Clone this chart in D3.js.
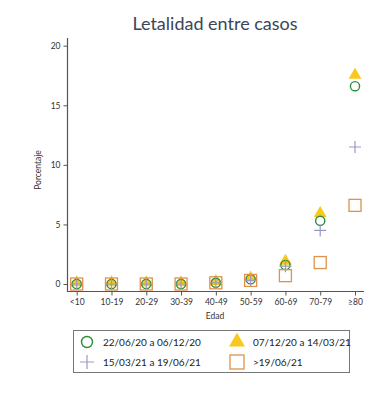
<!DOCTYPE html>
<html><head><meta charset="utf-8">
<script src="https://cdn.jsdelivr.net/npm/d3@7"></script>
<style>body{margin:0;background:#fff}svg{display:block}</style>
</head><body>
<script>
const categories = ["<10","10-19","20-29","30-39","40-49","50-59","60-69","70-79","≥80"];
const seriesNames = ["22/06/20 a 06/12/20","07/12/20 a 14/03/21","15/03/21 a 19/06/21",">19/06/21"];
const s1 = [0.0,0.0,0.0,0.0,0.1,0.4,1.6,5.3,16.6];   // circle
const s2 = [0.0,0.0,0.0,0.0,0.1,0.4,1.8,5.8,17.4];   // triangle
const s3 = [0.0,0.0,0.0,0.0,0.1,0.3,1.5,4.5,11.5];   // plus
const s4 = [0.0,0.0,0.0,0.0,0.1,0.3,0.7,1.8,6.6];    // square
const yTicks = [0,5,10,15,20];

const W=389,H=398;
const svg=d3.select("body").append("svg").attr("width",W).attr("height",H);
const font="Lato, 'Open Sans', sans-serif";
const x=d3.scalePoint().domain(categories).range([76.7,355]);
const y=d3.scaleLinear().domain([0,20]).range([284,45.7]);

svg.append("text").attr("x",215).attr("y",30).attr("text-anchor","middle")
  .attr("font-family",font).attr("font-size",18).attr("fill","#3b4656").text("Letalidad entre casos");

const axisCol="#555";
const ya=svg.append("g").attr("transform","translate(67.5,0)")
  .call(d3.axisLeft(y).tickValues(yTicks).tickSize(4).tickPadding(3));
ya.select(".domain").attr("d","M0,38V292").attr("stroke",axisCol).attr("stroke-width",1.2);
ya.selectAll(".tick line").attr("stroke",axisCol);
ya.selectAll("text").attr("font-family",font).attr("font-size",8.5).attr("fill","#333");
const xa=svg.append("g").attr("transform","translate(0,291.5)")
  .call(d3.axisBottom(x).tickSize(4).tickPadding(3));
xa.select(".domain").attr("d","M67,0H364").attr("stroke",axisCol).attr("stroke-width",1.2);
xa.selectAll(".tick line").attr("stroke",axisCol);
xa.selectAll("text").attr("font-family",font).attr("font-size",8.5).attr("fill","#333");

svg.append("text").attr("transform","translate(41,170) rotate(-90)").attr("text-anchor","middle")
  .attr("font-family",font).attr("font-size",8.5).attr("fill","#333").text("Porcentaje");
svg.append("text").attr("x",215).attr("y",319).attr("text-anchor","middle")
  .attr("font-family",font).attr("font-size",8.5).attr("fill","#333").text("Edad");

const cGreen="#2e8b3a", cGold="#f7c81e", cPurple="#9a9ac8", cOrange="#e0914a";
function tri(g){g.append("path").attr("d",d3.symbol(d3.symbolTriangle,70)()).attr("fill",cGold);}
function circ(g){g.append("circle").attr("r",4.6).attr("fill","none").attr("stroke",cGreen).attr("stroke-width",1.4);}
function plus(g){g.append("path").attr("d","M-6,0H6M0,-6V6").attr("stroke",cPurple).attr("stroke-width",1.2);}
function sq(g){g.append("rect").attr("x",-6).attr("y",-6).attr("width",12).attr("height",12).attr("fill","none").attr("stroke",cOrange).attr("stroke-width",1.3);}

const series=[{v:s2,f:tri,dy:-1.5},{v:s1,f:circ,dy:0},{v:s3,f:plus,dy:0},{v:s4,f:sq,dy:0}];
series.forEach(s=>{
  svg.append("g").selectAll("g").data(categories).join("g")
    .attr("transform",(c,i)=>`translate(${x(c)},${y(s.v[i])+s.dy})`)
    .each(function(){s.f(d3.select(this));});
});

svg.append("rect").attr("x",73.5).attr("y",330.5).attr("width",276).attr("height",42)
  .attr("fill","none").attr("stroke","#777").attr("stroke-width",1);
const leg=[{k:"c",x:87,y:342,n:seriesNames[0]},{k:"t",x:237,y:342,n:seriesNames[1]},
           {k:"p",x:87,y:362,n:seriesNames[2]},{k:"s",x:237,y:362,n:seriesNames[3]}];
leg.forEach(l=>{
  const g=svg.append("g").attr("transform",`translate(${l.x},${l.y})`);
  if(l.k==="c"){g.append("circle").attr("r",5.5).attr("fill","none").attr("stroke",cGreen).attr("stroke-width",1.4);}
  else if(l.k==="t"){g.append("path").attr("d",d3.symbol(d3.symbolTriangle,110)()).attr("fill",cGold);}
  else if(l.k==="p"){g.append("path").attr("d","M-7,0H7M0,-7V7").attr("stroke",cPurple).attr("stroke-width",1.2);}
  else {g.append("rect").attr("x",-7).attr("y",-7).attr("width",14).attr("height",14).attr("fill","none").attr("stroke",cOrange).attr("stroke-width",1.3);}
  svg.append("text").attr("x",l.x+16).attr("y",l.y+3.5).attr("font-family",font).attr("font-size",10)
    .attr("fill","#222").text(l.n);
});
</script>
</body></html>
